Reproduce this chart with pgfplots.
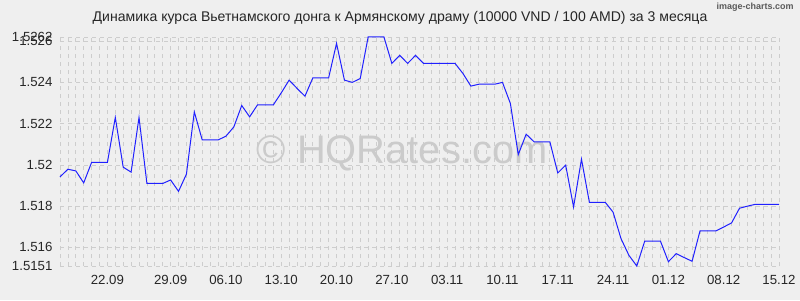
\documentclass[border=0pt]{standalone}
\usepackage{pgfplots}
\pgfplotsset{compat=1.18}
\usepackage{fontspec}
\setmainfont{Liberation Sans}
\definecolor{bgc}{HTML}{EFEFEF}
\definecolor{gridc}{HTML}{CDCDCD}
\definecolor{linec}{HTML}{2020FF}
\definecolor{wm}{HTML}{CBCBCB}
\begin{document}
\begin{tikzpicture}[x=1bp,y=1bp]
\fill[bgc] (0,0) rectangle (800,300);
\useasboundingbox (0,0) rectangle (800,300);
\node[font=\fontsize{14.1}{16}\selectfont, text=black!85] at (400,282) {Динамика курса Вьетнамского донга к Армянскому драму (10000 VND / 100 AMD) за 3 месяца};
\node[font=\fontsize{9}{10}\selectfont\bfseries, text=black!65, anchor=east] at (797,293) {image-charts.com};
\begin{axis}[
  at={(60bp,34bp)}, anchor=south west,
  width=719bp, height=229bp, scale only axis,
  xmin=0, xmax=91, ymin=1.5151, ymax=1.5262,
  axis line style={draw=none},
  clip=false,
  /pgf/number format/assume math mode=true,
  xtick={6,14,21,28,35,42,49,56,63,70,77,84,91},
  xticklabels={22.09,29.09,06.10,13.10,20.10,27.10,03.11,10.11,17.11,24.11,01.12,08.12,15.12},
  minor xtick={0,1,...,91},
  ytick={1.5151,1.516,1.518,1.52,1.522,1.524,1.526,1.5262},
  yticklabels={1.5151,1.516,1.518,1.52,1.522,1.524,1.526,1.5262},
  major tick length=0, minor tick length=0,
  xmajorgrids, xminorgrids, ymajorgrids,
  major grid style={gridc, dash pattern=on 4bp off 4bp, line width=0.8pt},
  minor grid style={gridc, dash pattern=on 4bp off 4bp, line width=0.8pt},
  ticklabel style={font=\fontsize{13.3}{15}\selectfont, text=black!85},
  xticklabel style={yshift=-6bp},
  yticklabel style={xshift=-4bp},
]
\node[font=\fontsize{40}{44}\selectfont, text=wm, anchor=base] at (axis cs:43.3,1.52008) {© HQRates.com};
\addplot[linec, line width=1pt, mark=none] coordinates {
(0,1.51942)(1,1.51979)(2,1.51971)(3,1.51913)(4,1.52012)(5,1.52012)(6,1.52012)(7,1.52230)(8,1.51989)(9,1.51965)
(10,1.52230)(11,1.51910)(12,1.51910)(13,1.51910)(14,1.51927)(15,1.51872)(16,1.51955)(17,1.52257)(18,1.52121)(19,1.52121)
(20,1.52121)(21,1.52139)(22,1.52184)(23,1.52288)(24,1.52233)(25,1.52291)(26,1.52291)(27,1.52291)(28,1.52349)(29,1.52411)
(30,1.52371)(31,1.52333)(32,1.52422)(33,1.52422)(34,1.52422)(35,1.52589)(36,1.52411)(37,1.52400)(38,1.52419)(39,1.5262)
(40,1.5262)(41,1.5262)(42,1.52492)(43,1.52531)(44,1.52492)(45,1.52531)(46,1.52492)(47,1.52492)(48,1.52492)(49,1.52492)
(50,1.52492)(51,1.52443)(52,1.52382)(53,1.52391)(54,1.52391)(55,1.52391)(56,1.52400)(57,1.52298)(58,1.52050)(59,1.52149)
(60,1.52112)(61,1.52112)(62,1.52112)(63,1.51961)(64,1.51999)(65,1.51796)(66,1.52028)(67,1.51819)(68,1.51819)(69,1.51819)
(70,1.51771)(71,1.51643)(72,1.51562)(73,1.5151)(74,1.5163)(75,1.5163)(76,1.5163)(77,1.51531)(78,1.5157)(79,1.51551)
(80,1.51533)(81,1.5168)(82,1.5168)(83,1.5168)(84,1.51699)(85,1.51719)(86,1.5179)(87,1.5180)(88,1.51809)(89,1.51809)
(90,1.51809)(91,1.51809)
};
\end{axis}
\end{tikzpicture}
\end{document}
